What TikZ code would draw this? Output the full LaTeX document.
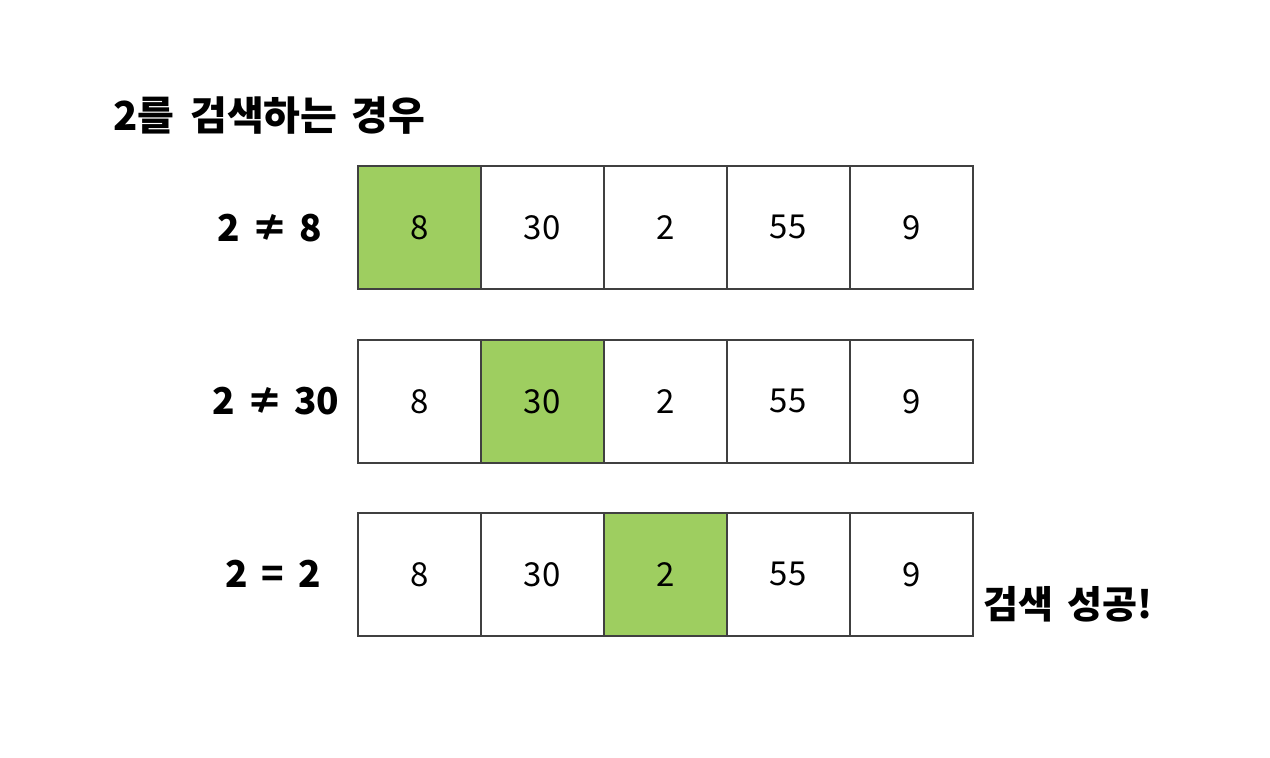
\documentclass[tikz,border=0pt]{standalone}
\usepackage{fontspec}
\setmainfont{Noto Sans CJK KR}
\definecolor{cellgreen}{RGB}{158,206,96}
\definecolor{cellline}{RGB}{64,64,64}
\newcommand{\gapsp}{\hspace{0.3em}}
\begin{document}
\begin{tikzpicture}[x=1pt,y=-1pt,
  cell/.style={draw=cellline,line width=1.6pt,minimum width=123pt,minimum height=123pt,inner sep=0pt,anchor=north west,font=\fontsize{33}{36}\selectfont},
  hit/.style={cell,fill=cellgreen},
  cmp/.style={font=\fontsize{37}{40}\selectfont\bfseries,anchor=center,inner sep=0pt},
  ttl/.style={font=\fontsize{40}{44}\selectfont\bfseries,inner sep=0pt}]
\useasboundingbox (0,0) rectangle (1270,758);
\fill[white] (0,0) rectangle (1270,758);
\node[ttl,anchor=west] (title) at (113,116) {2를\hspace{0.4em}검색하는\hspace{0.35em}경우};
% row 1
\node[hit]  (a1) at (357,165) {8};
\node[cell] (a2) at (480,165) {30};
\node[cell] (a3) at (603,165) {2};
\node[cell] (a4) at (726,165) {55};
\node[cell] (a5) at (849,165) {9};
% row 2
\node[cell] (b1) at (357,339) {8};
\node[hit]  (b2) at (480,339) {30};
\node[cell] (b3) at (603,339) {2};
\node[cell] (b4) at (726,339) {55};
\node[cell] (b5) at (849,339) {9};
% row 3
\node[cell] (c1) at (357,512) {8};
\node[cell] (c2) at (480,512) {30};
\node[hit]  (c3) at (603,512) {2};
\node[cell] (c4) at (726,512) {55};
\node[cell] (c5) at (849,512) {9};
% comparisons
\node[cmp] (l1) at (270,228) {2\gapsp≠\gapsp8};
\node[cmp] (l2) at (276,401) {2\gapsp≠\gapsp30};
\node[cmp] (l3) at (273,574) {2\hspace{0.38em}=\hspace{0.38em}2};
\node[ttl,font=\fontsize{38}{42}\selectfont\bfseries,anchor=west] (ok) at (983,604) {검색\hspace{0.38em}성공!};
\end{tikzpicture}
\end{document}
